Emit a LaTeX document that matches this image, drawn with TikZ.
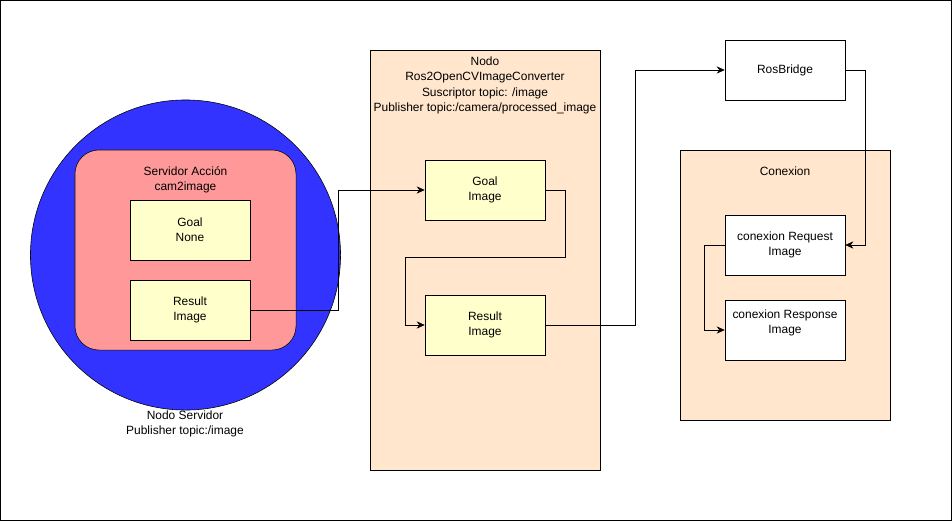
\documentclass[tikz,border=0pt]{standalone}
\usepackage{fontspec}
\setmainfont{Liberation Sans}
\usetikzlibrary{arrows.meta, positioning}

\definecolor{nodoblue}{HTML}{3333FF}
\definecolor{accionpink}{HTML}{FF9999}
\definecolor{msgyellow}{HTML}{FFFFCC}
\definecolor{nodopeach}{HTML}{FFE6CC}

\begin{document}
\begin{tikzpicture}[x=0.025cm, y=-0.025cm, font=\fontsize{8.5}{10.7}\selectfont]
		\tikzstyle{Msg} = [rectangle, minimum width=3cm, minimum height=1.5cm, align=center, draw=black, fill=msgyellow]
		\tikzstyle{WhiteMsg} = [rectangle, minimum width=3cm, minimum height=1.5cm, align=center, draw=black, fill=white]
		\tikzstyle{Container} = [rectangle, draw=black, fill=nodopeach, inner sep=0pt]
		\tikzstyle{Label} = [align=center, inner sep=0pt]
		\tikzstyle{arrow} = [draw=black, -{Stealth[length=2mm, width=1.8mm]}]
		
		\useasboundingbox (0,0) rectangle (952,521);
		\draw [black] (0.5,0.5) rectangle (951.5,520.5);
		
		% nodo servidor
		\node (srv) [circle, minimum size=7.75cm, draw=black, fill=nodoblue] at (185.5,255) {};
		\node (srvlabel) [Label] at (185,424) {Nodo Servidor\\Publisher topic:/image};
		\node (accion) [rectangle, rounded corners=0.6cm, minimum width=5.525cm, minimum height=5cm, draw=black, fill=accionpink] at (185.5,250) {};
		\node (accionlabel) [Label] at (185.5,180) {Servidor Acción\\cam2image};
		\node (goal1) [Msg] at (190,230) {Goal\\None};
		\node (res1) [Msg] at (190,310) {Result\\Image};
		
		% nodo converter
		\node (conv) [Container, minimum width=5.75cm, minimum height=10.5cm] at (485,260) {};
		\node (convlabel) [Label, anchor=north] at (485,57) {Nodo\\Ros2OpenCVImageConverter\\Suscriptor topic: /image\\Publisher topic:/camera/processed\_image};
		\node (goal2) [Msg] at (485,190) {Goal\\Image};
		\node (res2) [Msg] at (485,325) {Result\\Image};
		
		% rosbridge y conexion
		\node (ros) [WhiteMsg] at (785,70) {RosBridge};
		\node (cnx) [Container, minimum width=5.25cm, minimum height=6.75cm] at (785,285) {};
		\node (cnxlabel) [Label] at (785,171) {Conexion};
		\node (req) [WhiteMsg] at (785,245) {conexion Request\\Image};
		\node (resp) [WhiteMsg] at (785,330) {};
		\node (resplabel) [Label] at (785,323) {conexion Response\\Image};
		
		\draw [arrow] (res1.east) -- ++(88,0) |- (goal2.west);
		\draw [arrow] (goal2.east) -| (565,257) -| (405,325) -- (res2.west);
		\draw [arrow] (res2.east) -- ++(90,0) |- (ros.west);
		\draw [arrow] (ros.east) -- ++(20,0) |- (req.east);
		\draw [arrow] (req.west) -- ++(-20,0) |- (resp.west);
\end{tikzpicture}
\end{document}
